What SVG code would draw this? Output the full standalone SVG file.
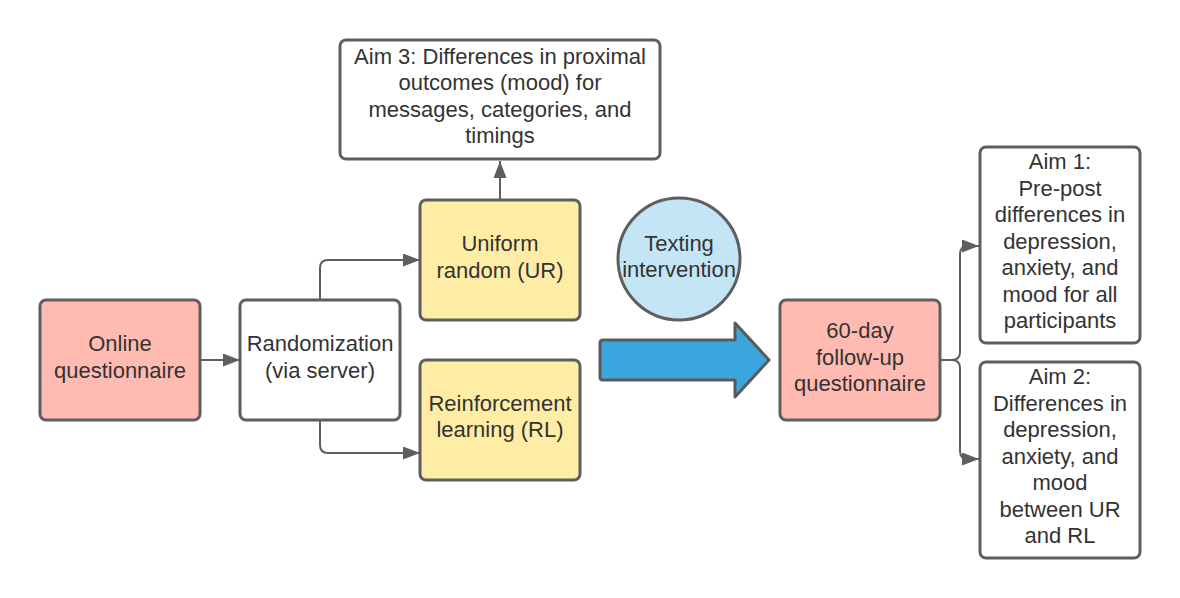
<svg xmlns="http://www.w3.org/2000/svg" width="1180" height="598" viewBox="0 0 1180 598">
<defs>
<style>
.box{stroke:#5e5e5e;stroke-width:3;}
.pink{fill:#FFBBB1;}
.yellow{fill:#FFEDA6;}
.white{fill:#FFFFFF;}
.blue{fill:#C3E5F6;}
text{font-family:"Liberation Sans",Arial,sans-serif;font-size:22px;fill:#333333;text-anchor:middle;}
.conn{fill:none;stroke:#5e5e5e;stroke-width:2;}
</style>
<marker id="arr" markerUnits="userSpaceOnUse" markerWidth="18" markerHeight="14" refX="17" refY="6.5" orient="auto">
<path d="M0,0 L17,6.5 L0,13 z" fill="#5e5e5e"/>
</marker>
</defs>
<rect width="1180" height="598" fill="#ffffff"/>
<g id="connectors">
<path class="conn" d="M200 360 H240" marker-end="url(#arr)"/>
<path class="conn" d="M320 300 V268 Q320 260 328 260 H420" marker-end="url(#arr)"/>
<path class="conn" d="M320 420 V445 Q320 453 328 453 H420" marker-end="url(#arr)"/>
<path class="conn" d="M500 200 V161" marker-end="url(#arr)"/>
<path class="conn" d="M940 360 H952 Q960 360 960 352 V254 Q960 246 968 246 H979" marker-end="url(#arr)"/>
<path class="conn" d="M940 360 H952 Q960 360 960 368 V451 Q960 459 968 459 H979" marker-end="url(#arr)"/>
</g>
<g id="online">
<rect class="box pink" x="40" y="300" width="160" height="120" rx="6"/>
<text x="120" y="351">Online</text>
<text x="120" y="377.5">questionnaire</text>
</g>
<g id="randomization">
<rect class="box white" x="240" y="300" width="160" height="120" rx="6"/>
<text x="320" y="351">Randomization</text>
<text x="320" y="377.5">(via server)</text>
</g>
<g id="ur">
<rect class="box yellow" x="420" y="200" width="160" height="120" rx="6"/>
<text x="500" y="251">Uniform</text>
<text x="500" y="277.5">random (UR)</text>
</g>
<g id="rl">
<rect class="box yellow" x="420" y="360" width="160" height="120" rx="6"/>
<text x="500" y="410.5">Reinforcement</text>
<text x="500" y="437">learning (RL)</text>
</g>
<g id="aim3">
<rect class="box white" x="340" y="40" width="320" height="119" rx="6"/>
<text x="500" y="63.5">Aim 3: Differences in proximal</text>
<text x="500" y="90">outcomes (mood) for</text>
<text x="500" y="116.5">messages, categories, and</text>
<text x="500" y="142.5">timings</text>
</g>
<g id="texting">
<circle class="box blue" cx="679" cy="259" r="61"/>
<text x="679" y="251">Texting</text>
<text x="679" y="277">intervention</text>
</g>
<g id="bigarrow">
<path d="M603 340 H735 V323 L769 360 L735 397 V380 H603 Q600 380 600 377 V343 Q600 340 603 340 Z" fill="#3AA6DD" stroke="#5a5a5a" stroke-width="3" stroke-linejoin="round"/>
</g>
<g id="followup">
<rect class="box pink" x="780" y="300" width="160" height="120" rx="6"/>
<text x="860" y="338">60-day</text>
<text x="860" y="364.5">follow-up</text>
<text x="860" y="391">questionnaire</text>
</g>
<g id="aim1">
<rect class="box white" x="980" y="147" width="160" height="196" rx="6"/>
<text x="1060" y="169">Aim 1:</text>
<text x="1060" y="195.5">Pre-post</text>
<text x="1060" y="222">differences in</text>
<text x="1060" y="248.5">depression,</text>
<text x="1060" y="275">anxiety, and</text>
<text x="1060" y="301.5">mood for all</text>
<text x="1060" y="328">participants</text>
</g>
<g id="aim2">
<rect class="box white" x="980" y="362" width="160" height="196" rx="6"/>
<text x="1060" y="384">Aim 2:</text>
<text x="1060" y="410.5">Differences in</text>
<text x="1060" y="437">depression,</text>
<text x="1060" y="463.5">anxiety, and</text>
<text x="1060" y="490">mood</text>
<text x="1060" y="516.5">between UR</text>
<text x="1060" y="543">and RL</text>
</g>
</svg>
